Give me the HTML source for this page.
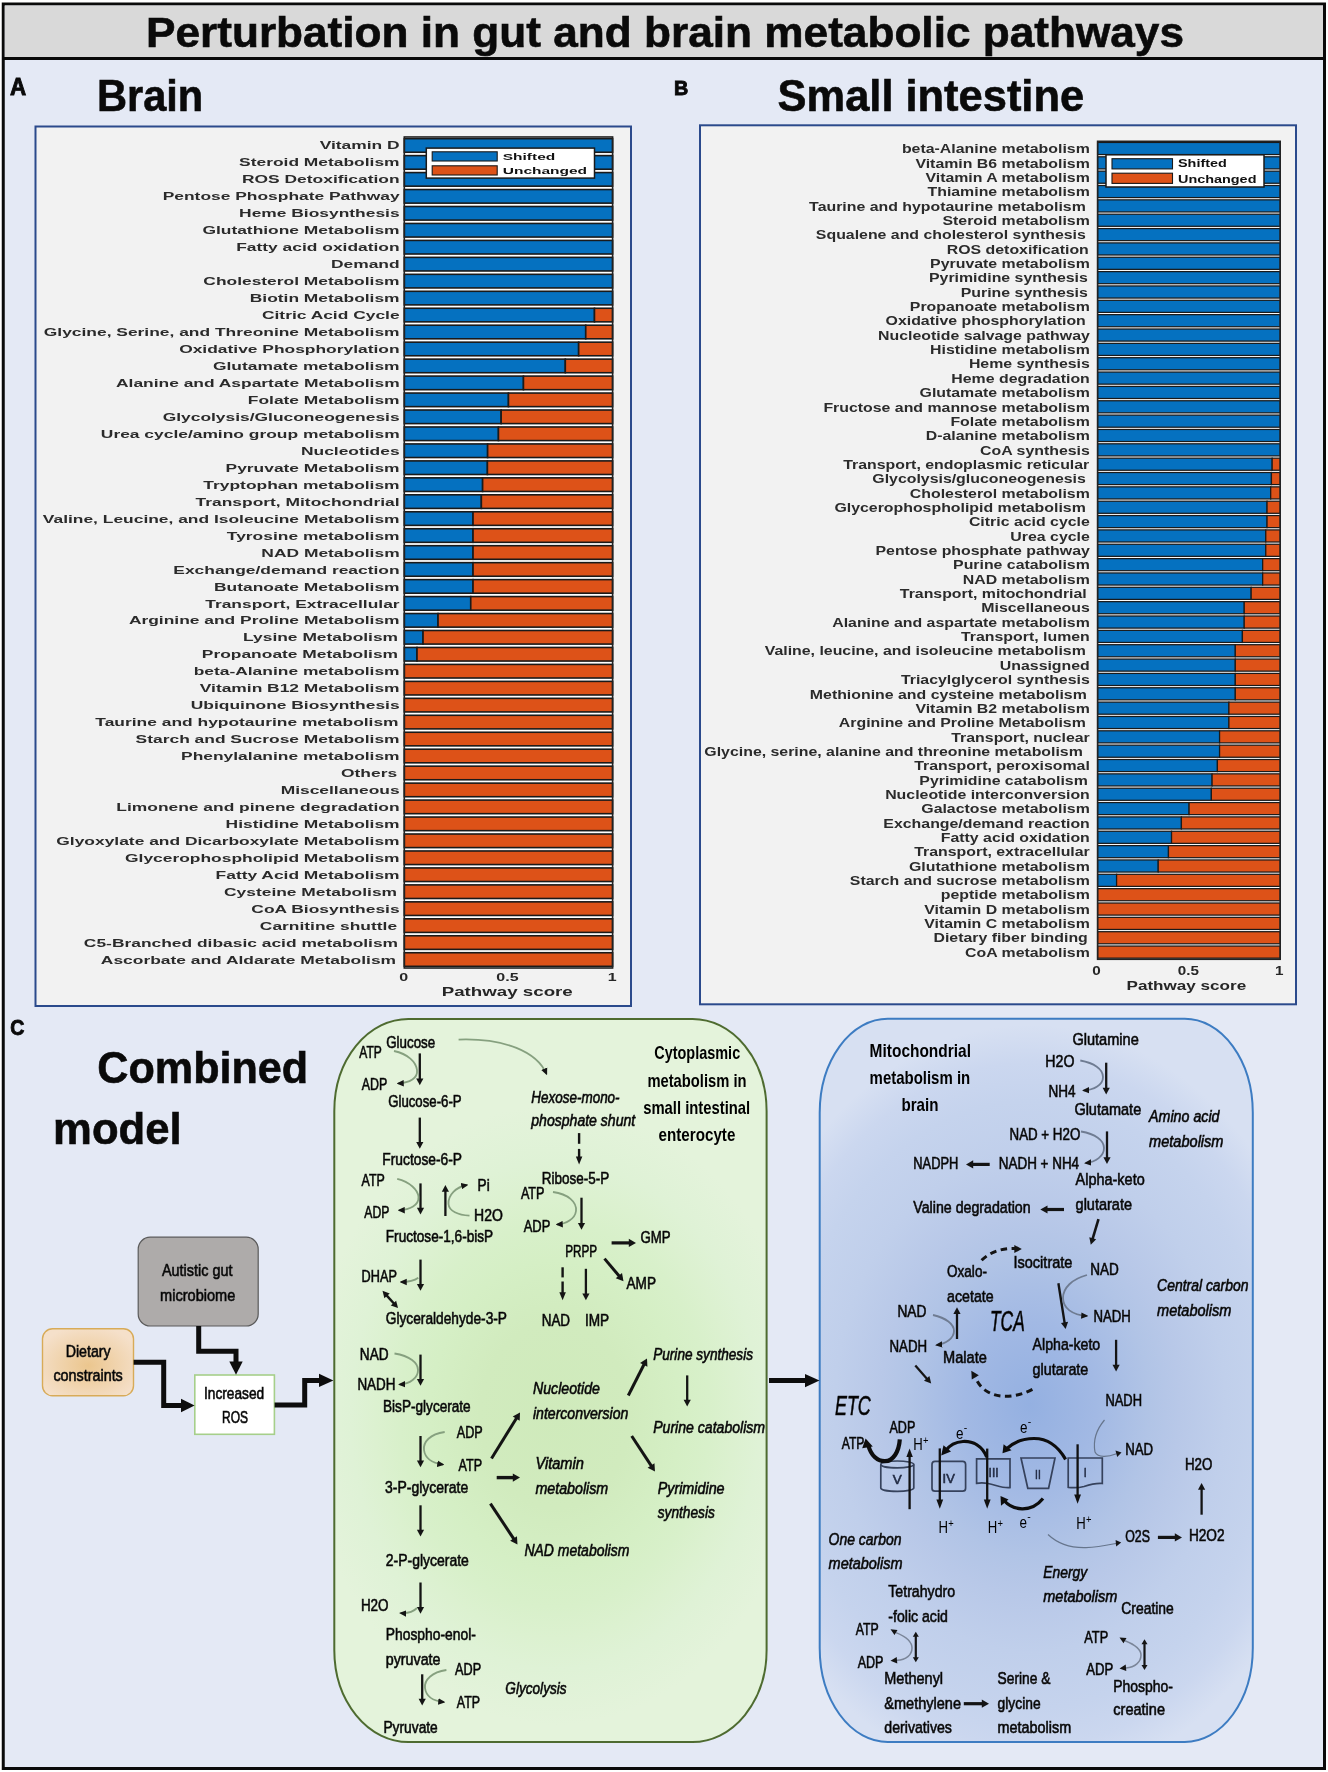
<!DOCTYPE html>
<html><head><meta charset="utf-8"><title>Perturbation in gut and brain metabolic pathways</title>
<style>html,body{margin:0;padding:0;background:#fff;width:1328px;height:1772px;overflow:hidden;}
body{position:relative;font-family:"Liberation Sans",sans-serif;} svg{will-change:transform;}</style></head>
<body>
<svg width="1328" height="1772" viewBox="0 0 1328 1772" style="position:absolute;left:0;top:0" font-family="Liberation Sans, sans-serif">
<defs>
<radialGradient id="gG" gradientUnits="userSpaceOnUse" cx="555" cy="1415" r="250" gradientTransform="translate(555,1415) scale(1,1.24) translate(-555,-1415)">
 <stop offset="0" stop-color="#cfeabb"/><stop offset="0.3" stop-color="#d1ebbe"/><stop offset="0.5" stop-color="#d5efc5"/><stop offset="0.62" stop-color="#d8f0ca"/><stop offset="0.72" stop-color="#dcf1d0"/><stop offset="0.82" stop-color="#dff2d6"/><stop offset="1" stop-color="#e4f3db"/>
</radialGradient>
<radialGradient id="gB" gradientUnits="userSpaceOnUse" cx="1030" cy="1405" r="300" gradientTransform="translate(1030,1405) scale(1,1.267) translate(-1030,-1405)">
 <stop offset="0" stop-color="#94b0e1"/><stop offset="0.22" stop-color="#a2b9e4"/><stop offset="0.4" stop-color="#b1c4e6"/><stop offset="0.5" stop-color="#b8c8e8"/><stop offset="0.65" stop-color="#c0cfeb"/><stop offset="0.8" stop-color="#c5d3ed"/><stop offset="0.9" stop-color="#cbd7ef"/><stop offset="1" stop-color="#d7e0f2"/>
</radialGradient>
<radialGradient id="gD" cx="0.5" cy="0.55" r="0.6">
 <stop offset="0" stop-color="#ebc68e"/><stop offset="1" stop-color="#f5e0ca"/>
</radialGradient>
<marker id="ah" viewBox="0 0 10 10" refX="9" refY="5" markerWidth="4.5" markerHeight="4.5" markerUnits="strokeWidth" orient="auto">
 <path d="M0,0 L10,5 L0,10 z" fill="#141414"/></marker>
<marker id="ahT" viewBox="0 0 10 10" refX="8" refY="5" markerWidth="7.2" markerHeight="7.2" markerUnits="userSpaceOnUse" orient="auto">
 <path d="M0,0.5 L10,5 L0,9.5 z" fill="#141414"/></marker>
<marker id="ahK" viewBox="0 0 10 10" refX="8" refY="5" markerWidth="2.6" markerHeight="2.6" markerUnits="strokeWidth" orient="auto">
 <path d="M0,0 L10,5 L0,10 z" fill="#0d0d0d"/></marker>
</defs>
<rect x="0" y="0" width="1328" height="1772" fill="#ffffff"/>
<rect x="3.25" y="4" width="1321.25" height="1764.5" fill="#e4e9f5" stroke="#0a0a0a" stroke-width="3"/>
<rect x="4.75" y="5.5" width="1318.25" height="52" fill="#d9d9d9"/>
<line x1="3" y1="58.5" x2="1325" y2="58.5" stroke="#0a0a0a" stroke-width="3"/>
<text x="146.00" y="47.40" font-size="42" font-weight="bold" fill="#0a0a0a" textLength="1038.00" lengthAdjust="spacingAndGlyphs" stroke="#0a0a0a" stroke-width="0.6">Perturbation in gut and brain metabolic pathways</text>
<text x="9.90" y="95.30" font-size="23" font-weight="bold" fill="#0a0a0a" textLength="16.20" lengthAdjust="spacingAndGlyphs" stroke="#0a0a0a" stroke-width="0.9">A</text>
<text x="96.90" y="111.20" font-size="45" font-weight="bold" fill="#0a0a0a" textLength="106.40" lengthAdjust="spacingAndGlyphs" stroke="#0a0a0a" stroke-width="0.6">Brain</text>
<text x="673.90" y="94.80" font-size="20" font-weight="bold" fill="#0a0a0a" textLength="14.30" lengthAdjust="spacingAndGlyphs" stroke="#0a0a0a" stroke-width="0.9">B</text>
<text x="777.60" y="111.40" font-size="44" font-weight="bold" fill="#0a0a0a" textLength="306.50" lengthAdjust="spacingAndGlyphs" stroke="#0a0a0a" stroke-width="0.6">Small intestine</text>
<text x="10.20" y="1034.60" font-size="21.5" font-weight="bold" fill="#0a0a0a" textLength="14.10" lengthAdjust="spacingAndGlyphs" stroke="#0a0a0a" stroke-width="0.9">C</text>
<text x="97.30" y="1083.20" font-size="44" font-weight="bold" fill="#0a0a0a" textLength="210.90" lengthAdjust="spacingAndGlyphs" stroke="#0a0a0a" stroke-width="0.6">Combined</text>
<text x="53.10" y="1143.70" font-size="44" font-weight="bold" fill="#0a0a0a" textLength="128.60" lengthAdjust="spacingAndGlyphs" stroke="#0a0a0a" stroke-width="0.6">model</text>
<rect x="35.5" y="126.5" width="595.5" height="879.5" fill="#f2f2f2" stroke="#2b4a8c" stroke-width="2"/>
<rect x="700" y="125.3" width="596" height="879" fill="#f2f2f2" stroke="#2b4a8c" stroke-width="2"/>
<rect x="404.30" y="136.97" width="208.30" height="831.04" fill="#ffffff"/>
<rect x="404.30" y="138.65" width="208.30" height="13.60" fill="#0571c0" stroke="#1a1a1a" stroke-width="1.6"/>
<text x="319.67" y="149.05" font-size="10" font-weight="bold" fill="#2b2b2b" textLength="79.93" lengthAdjust="spacingAndGlyphs">Vitamin D</text>
<rect x="404.30" y="155.61" width="208.30" height="13.60" fill="#0571c0" stroke="#1a1a1a" stroke-width="1.6"/>
<text x="239.12" y="166.03" font-size="10" font-weight="bold" fill="#2b2b2b" textLength="160.48" lengthAdjust="spacingAndGlyphs">Steroid Metabolism</text>
<rect x="404.30" y="172.57" width="208.30" height="13.60" fill="#0571c0" stroke="#1a1a1a" stroke-width="1.6"/>
<text x="242.02" y="183.01" font-size="10" font-weight="bold" fill="#2b2b2b" textLength="157.58" lengthAdjust="spacingAndGlyphs">ROS Detoxification</text>
<rect x="404.30" y="189.53" width="208.30" height="13.60" fill="#0571c0" stroke="#1a1a1a" stroke-width="1.6"/>
<text x="162.72" y="199.99" font-size="10" font-weight="bold" fill="#2b2b2b" textLength="236.88" lengthAdjust="spacingAndGlyphs">Pentose Phosphate Pathway</text>
<rect x="404.30" y="206.49" width="208.30" height="13.60" fill="#0571c0" stroke="#1a1a1a" stroke-width="1.6"/>
<text x="239.09" y="216.97" font-size="10" font-weight="bold" fill="#2b2b2b" textLength="160.51" lengthAdjust="spacingAndGlyphs">Heme Biosynthesis</text>
<rect x="404.30" y="223.45" width="208.30" height="13.60" fill="#0571c0" stroke="#1a1a1a" stroke-width="1.6"/>
<text x="202.40" y="233.95" font-size="10" font-weight="bold" fill="#2b2b2b" textLength="197.20" lengthAdjust="spacingAndGlyphs">Glutathione Metabolism</text>
<rect x="404.30" y="240.41" width="208.30" height="13.60" fill="#0571c0" stroke="#1a1a1a" stroke-width="1.6"/>
<text x="236.23" y="250.93" font-size="10" font-weight="bold" fill="#2b2b2b" textLength="163.37" lengthAdjust="spacingAndGlyphs">Fatty acid oxidation</text>
<rect x="404.30" y="257.37" width="208.30" height="13.60" fill="#0571c0" stroke="#1a1a1a" stroke-width="1.6"/>
<text x="330.95" y="267.91" font-size="10" font-weight="bold" fill="#2b2b2b" textLength="68.65" lengthAdjust="spacingAndGlyphs">Demand</text>
<rect x="404.30" y="274.33" width="208.30" height="13.60" fill="#0571c0" stroke="#1a1a1a" stroke-width="1.6"/>
<text x="203.34" y="284.89" font-size="10" font-weight="bold" fill="#2b2b2b" textLength="196.26" lengthAdjust="spacingAndGlyphs">Cholesterol Metabolism</text>
<rect x="404.30" y="291.29" width="208.30" height="13.60" fill="#0571c0" stroke="#1a1a1a" stroke-width="1.6"/>
<text x="249.77" y="301.87" font-size="10" font-weight="bold" fill="#2b2b2b" textLength="149.83" lengthAdjust="spacingAndGlyphs">Biotin Metabolism</text>
<rect x="404.30" y="308.25" width="190.18" height="13.60" fill="#0571c0" stroke="#1a1a1a" stroke-width="1.6"/>
<rect x="594.48" y="308.25" width="18.12" height="13.60" fill="#dd5218" stroke="#1a1a1a" stroke-width="1.6"/>
<text x="261.97" y="318.85" font-size="10" font-weight="bold" fill="#2b2b2b" textLength="137.63" lengthAdjust="spacingAndGlyphs">Citric Acid Cycle</text>
<rect x="404.30" y="325.21" width="181.43" height="13.60" fill="#0571c0" stroke="#1a1a1a" stroke-width="1.6"/>
<rect x="585.73" y="325.21" width="26.87" height="13.60" fill="#dd5218" stroke="#1a1a1a" stroke-width="1.6"/>
<text x="43.81" y="335.83" font-size="10" font-weight="bold" fill="#2b2b2b" textLength="355.79" lengthAdjust="spacingAndGlyphs">Glycine, Serine, and Threonine Metabolism</text>
<rect x="404.30" y="342.17" width="174.35" height="13.60" fill="#0571c0" stroke="#1a1a1a" stroke-width="1.6"/>
<rect x="578.65" y="342.17" width="33.95" height="13.60" fill="#dd5218" stroke="#1a1a1a" stroke-width="1.6"/>
<text x="179.18" y="352.81" font-size="10" font-weight="bold" fill="#2b2b2b" textLength="220.42" lengthAdjust="spacingAndGlyphs">Oxidative Phosphorylation</text>
<rect x="404.30" y="359.13" width="161.02" height="13.60" fill="#0571c0" stroke="#1a1a1a" stroke-width="1.6"/>
<rect x="565.32" y="359.13" width="47.28" height="13.60" fill="#dd5218" stroke="#1a1a1a" stroke-width="1.6"/>
<text x="212.99" y="369.79" font-size="10" font-weight="bold" fill="#2b2b2b" textLength="186.61" lengthAdjust="spacingAndGlyphs">Glutamate metabolism</text>
<rect x="404.30" y="376.09" width="119.15" height="13.60" fill="#0571c0" stroke="#1a1a1a" stroke-width="1.6"/>
<rect x="523.45" y="376.09" width="89.15" height="13.60" fill="#dd5218" stroke="#1a1a1a" stroke-width="1.6"/>
<text x="116.00" y="386.77" font-size="10" font-weight="bold" fill="#2b2b2b" textLength="283.60" lengthAdjust="spacingAndGlyphs">Alanine and Aspartate Metabolism</text>
<rect x="404.30" y="393.05" width="104.15" height="13.60" fill="#0571c0" stroke="#1a1a1a" stroke-width="1.6"/>
<rect x="508.45" y="393.05" width="104.15" height="13.60" fill="#dd5218" stroke="#1a1a1a" stroke-width="1.6"/>
<text x="247.82" y="403.75" font-size="10" font-weight="bold" fill="#2b2b2b" textLength="151.78" lengthAdjust="spacingAndGlyphs">Folate Metabolism</text>
<rect x="404.30" y="410.01" width="96.86" height="13.60" fill="#0571c0" stroke="#1a1a1a" stroke-width="1.6"/>
<rect x="501.16" y="410.01" width="111.44" height="13.60" fill="#dd5218" stroke="#1a1a1a" stroke-width="1.6"/>
<text x="162.70" y="420.73" font-size="10" font-weight="bold" fill="#2b2b2b" textLength="236.90" lengthAdjust="spacingAndGlyphs">Glycolysis/Gluconeogenesis</text>
<rect x="404.30" y="426.97" width="94.15" height="13.60" fill="#0571c0" stroke="#1a1a1a" stroke-width="1.6"/>
<rect x="498.45" y="426.97" width="114.15" height="13.60" fill="#dd5218" stroke="#1a1a1a" stroke-width="1.6"/>
<text x="100.83" y="437.71" font-size="10" font-weight="bold" fill="#2b2b2b" textLength="298.77" lengthAdjust="spacingAndGlyphs">Urea cycle/amino group metabolism</text>
<rect x="404.30" y="443.93" width="83.32" height="13.60" fill="#0571c0" stroke="#1a1a1a" stroke-width="1.6"/>
<rect x="487.62" y="443.93" width="124.98" height="13.60" fill="#dd5218" stroke="#1a1a1a" stroke-width="1.6"/>
<text x="300.99" y="454.69" font-size="10" font-weight="bold" fill="#2b2b2b" textLength="98.61" lengthAdjust="spacingAndGlyphs">Nucleotides</text>
<rect x="404.30" y="460.89" width="83.11" height="13.60" fill="#0571c0" stroke="#1a1a1a" stroke-width="1.6"/>
<rect x="487.41" y="460.89" width="125.19" height="13.60" fill="#dd5218" stroke="#1a1a1a" stroke-width="1.6"/>
<text x="225.55" y="471.67" font-size="10" font-weight="bold" fill="#2b2b2b" textLength="174.05" lengthAdjust="spacingAndGlyphs">Pyruvate Metabolism</text>
<rect x="404.30" y="477.85" width="78.32" height="13.60" fill="#0571c0" stroke="#1a1a1a" stroke-width="1.6"/>
<rect x="482.62" y="477.85" width="129.98" height="13.60" fill="#dd5218" stroke="#1a1a1a" stroke-width="1.6"/>
<text x="203.35" y="488.65" font-size="10" font-weight="bold" fill="#2b2b2b" textLength="196.25" lengthAdjust="spacingAndGlyphs">Tryptophan metabolism</text>
<rect x="404.30" y="494.81" width="77.07" height="13.60" fill="#0571c0" stroke="#1a1a1a" stroke-width="1.6"/>
<rect x="481.37" y="494.81" width="131.23" height="13.60" fill="#dd5218" stroke="#1a1a1a" stroke-width="1.6"/>
<text x="195.64" y="505.63" font-size="10" font-weight="bold" fill="#2b2b2b" textLength="203.96" lengthAdjust="spacingAndGlyphs">Transport, Mitochondrial</text>
<rect x="404.30" y="511.77" width="68.74" height="13.60" fill="#0571c0" stroke="#1a1a1a" stroke-width="1.6"/>
<rect x="473.04" y="511.77" width="139.56" height="13.60" fill="#dd5218" stroke="#1a1a1a" stroke-width="1.6"/>
<text x="42.83" y="522.61" font-size="10" font-weight="bold" fill="#2b2b2b" textLength="356.77" lengthAdjust="spacingAndGlyphs">Valine, Leucine, and Isoleucine Metabolism</text>
<rect x="404.30" y="528.73" width="68.74" height="13.60" fill="#0571c0" stroke="#1a1a1a" stroke-width="1.6"/>
<rect x="473.04" y="528.73" width="139.56" height="13.60" fill="#dd5218" stroke="#1a1a1a" stroke-width="1.6"/>
<text x="226.85" y="539.59" font-size="10" font-weight="bold" fill="#2b2b2b" textLength="172.75" lengthAdjust="spacingAndGlyphs">Tyrosine metabolism</text>
<rect x="404.30" y="545.69" width="68.74" height="13.60" fill="#0571c0" stroke="#1a1a1a" stroke-width="1.6"/>
<rect x="473.04" y="545.69" width="139.56" height="13.60" fill="#dd5218" stroke="#1a1a1a" stroke-width="1.6"/>
<text x="261.36" y="556.57" font-size="10" font-weight="bold" fill="#2b2b2b" textLength="138.24" lengthAdjust="spacingAndGlyphs">NAD Metabolism</text>
<rect x="404.30" y="562.65" width="68.74" height="13.60" fill="#0571c0" stroke="#1a1a1a" stroke-width="1.6"/>
<rect x="473.04" y="562.65" width="139.56" height="13.60" fill="#dd5218" stroke="#1a1a1a" stroke-width="1.6"/>
<text x="173.35" y="573.55" font-size="10" font-weight="bold" fill="#2b2b2b" textLength="226.25" lengthAdjust="spacingAndGlyphs">Exchange/demand reaction</text>
<rect x="404.30" y="579.61" width="68.74" height="13.60" fill="#0571c0" stroke="#1a1a1a" stroke-width="1.6"/>
<rect x="473.04" y="579.61" width="139.56" height="13.60" fill="#dd5218" stroke="#1a1a1a" stroke-width="1.6"/>
<text x="213.99" y="590.53" font-size="10" font-weight="bold" fill="#2b2b2b" textLength="185.61" lengthAdjust="spacingAndGlyphs">Butanoate Metabolism</text>
<rect x="404.30" y="596.57" width="66.45" height="13.60" fill="#0571c0" stroke="#1a1a1a" stroke-width="1.6"/>
<rect x="470.75" y="596.57" width="141.85" height="13.60" fill="#dd5218" stroke="#1a1a1a" stroke-width="1.6"/>
<text x="205.24" y="607.51" font-size="10" font-weight="bold" fill="#2b2b2b" textLength="194.36" lengthAdjust="spacingAndGlyphs">Transport, Extracellular</text>
<rect x="404.30" y="613.53" width="33.74" height="13.60" fill="#0571c0" stroke="#1a1a1a" stroke-width="1.6"/>
<rect x="438.04" y="613.53" width="174.56" height="13.60" fill="#dd5218" stroke="#1a1a1a" stroke-width="1.6"/>
<text x="128.91" y="624.49" font-size="10" font-weight="bold" fill="#2b2b2b" textLength="270.69" lengthAdjust="spacingAndGlyphs">Arginine and Proline Metabolism</text>
<rect x="404.30" y="630.49" width="18.75" height="13.60" fill="#0571c0" stroke="#1a1a1a" stroke-width="1.6"/>
<rect x="423.05" y="630.49" width="189.55" height="13.60" fill="#dd5218" stroke="#1a1a1a" stroke-width="1.6"/>
<text x="243.08" y="641.47" font-size="10" font-weight="bold" fill="#2b2b2b" textLength="155.02" lengthAdjust="spacingAndGlyphs">Lysine Metabolism</text>
<rect x="404.30" y="647.45" width="12.71" height="13.60" fill="#0571c0" stroke="#1a1a1a" stroke-width="1.6"/>
<rect x="417.01" y="647.45" width="195.59" height="13.60" fill="#dd5218" stroke="#1a1a1a" stroke-width="1.6"/>
<text x="201.84" y="658.45" font-size="10" font-weight="bold" fill="#2b2b2b" textLength="196.26" lengthAdjust="spacingAndGlyphs">Propanoate Metabolism</text>
<rect x="404.30" y="664.41" width="208.30" height="13.60" fill="#dd5218" stroke="#1a1a1a" stroke-width="1.6"/>
<text x="193.67" y="675.43" font-size="10" font-weight="bold" fill="#2b2b2b" textLength="205.93" lengthAdjust="spacingAndGlyphs">beta-Alanine metabolism</text>
<rect x="404.30" y="681.37" width="208.30" height="13.60" fill="#dd5218" stroke="#1a1a1a" stroke-width="1.6"/>
<text x="199.77" y="692.41" font-size="10" font-weight="bold" fill="#2b2b2b" textLength="199.83" lengthAdjust="spacingAndGlyphs">Vitamin B12 Metabolism</text>
<rect x="404.30" y="698.33" width="208.30" height="13.60" fill="#dd5218" stroke="#1a1a1a" stroke-width="1.6"/>
<text x="190.80" y="709.39" font-size="10" font-weight="bold" fill="#2b2b2b" textLength="208.80" lengthAdjust="spacingAndGlyphs">Ubiquinone Biosynthesis</text>
<rect x="404.30" y="715.29" width="208.30" height="13.60" fill="#dd5218" stroke="#1a1a1a" stroke-width="1.6"/>
<text x="95.36" y="726.37" font-size="10" font-weight="bold" fill="#2b2b2b" textLength="303.24" lengthAdjust="spacingAndGlyphs">Taurine and hypotaurine metabolism</text>
<rect x="404.30" y="732.25" width="208.30" height="13.60" fill="#dd5218" stroke="#1a1a1a" stroke-width="1.6"/>
<text x="135.64" y="743.35" font-size="10" font-weight="bold" fill="#2b2b2b" textLength="263.96" lengthAdjust="spacingAndGlyphs">Starch and Sucrose Metabolism</text>
<rect x="404.30" y="749.21" width="208.30" height="13.60" fill="#dd5218" stroke="#1a1a1a" stroke-width="1.6"/>
<text x="181.08" y="760.33" font-size="10" font-weight="bold" fill="#2b2b2b" textLength="218.52" lengthAdjust="spacingAndGlyphs">Phenylalanine metabolism</text>
<rect x="404.30" y="766.17" width="208.30" height="13.60" fill="#dd5218" stroke="#1a1a1a" stroke-width="1.6"/>
<text x="341.02" y="777.31" font-size="10" font-weight="bold" fill="#2b2b2b" textLength="56.08" lengthAdjust="spacingAndGlyphs">Others</text>
<rect x="404.30" y="783.13" width="208.30" height="13.60" fill="#dd5218" stroke="#1a1a1a" stroke-width="1.6"/>
<text x="280.67" y="794.29" font-size="10" font-weight="bold" fill="#2b2b2b" textLength="118.93" lengthAdjust="spacingAndGlyphs">Miscellaneous</text>
<rect x="404.30" y="800.09" width="208.30" height="13.60" fill="#dd5218" stroke="#1a1a1a" stroke-width="1.6"/>
<text x="116.36" y="811.27" font-size="10" font-weight="bold" fill="#2b2b2b" textLength="283.24" lengthAdjust="spacingAndGlyphs">Limonene and pinene degradation</text>
<rect x="404.30" y="817.05" width="208.30" height="13.60" fill="#dd5218" stroke="#1a1a1a" stroke-width="1.6"/>
<text x="225.59" y="828.25" font-size="10" font-weight="bold" fill="#2b2b2b" textLength="174.01" lengthAdjust="spacingAndGlyphs">Histidine Metabolism</text>
<rect x="404.30" y="834.01" width="208.30" height="13.60" fill="#dd5218" stroke="#1a1a1a" stroke-width="1.6"/>
<text x="56.34" y="845.23" font-size="10" font-weight="bold" fill="#2b2b2b" textLength="343.26" lengthAdjust="spacingAndGlyphs">Glyoxylate and Dicarboxylate Metabolism</text>
<rect x="404.30" y="850.97" width="208.30" height="13.60" fill="#dd5218" stroke="#1a1a1a" stroke-width="1.6"/>
<text x="125.06" y="862.21" font-size="10" font-weight="bold" fill="#2b2b2b" textLength="274.54" lengthAdjust="spacingAndGlyphs">Glycerophospholipid Metabolism</text>
<rect x="404.30" y="867.93" width="208.30" height="13.60" fill="#dd5218" stroke="#1a1a1a" stroke-width="1.6"/>
<text x="215.60" y="879.19" font-size="10" font-weight="bold" fill="#2b2b2b" textLength="184.00" lengthAdjust="spacingAndGlyphs">Fatty Acid Metabolism</text>
<rect x="404.30" y="884.89" width="208.30" height="13.60" fill="#dd5218" stroke="#1a1a1a" stroke-width="1.6"/>
<text x="224.03" y="896.17" font-size="10" font-weight="bold" fill="#2b2b2b" textLength="173.07" lengthAdjust="spacingAndGlyphs">Cysteine Metabolism</text>
<rect x="404.30" y="901.85" width="208.30" height="13.60" fill="#dd5218" stroke="#1a1a1a" stroke-width="1.6"/>
<text x="251.36" y="913.15" font-size="10" font-weight="bold" fill="#2b2b2b" textLength="148.24" lengthAdjust="spacingAndGlyphs">CoA Biosynthesis</text>
<rect x="404.30" y="918.81" width="208.30" height="13.60" fill="#dd5218" stroke="#1a1a1a" stroke-width="1.6"/>
<text x="259.83" y="930.13" font-size="10" font-weight="bold" fill="#2b2b2b" textLength="137.27" lengthAdjust="spacingAndGlyphs">Carnitine shuttle</text>
<rect x="404.30" y="935.77" width="208.30" height="13.60" fill="#dd5218" stroke="#1a1a1a" stroke-width="1.6"/>
<text x="83.86" y="947.11" font-size="10" font-weight="bold" fill="#2b2b2b" textLength="314.24" lengthAdjust="spacingAndGlyphs">C5-Branched dibasic acid metabolism</text>
<rect x="404.30" y="952.73" width="208.30" height="13.60" fill="#dd5218" stroke="#1a1a1a" stroke-width="1.6"/>
<text x="100.89" y="964.09" font-size="10" font-weight="bold" fill="#2b2b2b" textLength="295.21" lengthAdjust="spacingAndGlyphs">Ascorbate and Aldarate Metabolism</text>
<rect x="404.30" y="136.97" width="208.30" height="831.04" fill="none" stroke="#222" stroke-width="1.6"/>
<rect x="1097.60" y="141.32" width="182.60" height="817.95" fill="#ffffff"/>
<rect x="1097.60" y="142.45" width="182.60" height="12.10" fill="#0571c0" stroke="#1a1a1a" stroke-width="1.25"/>
<text x="901.92" y="153.20" font-size="12.5" font-weight="bold" fill="#2b2b2b" textLength="187.88" lengthAdjust="spacingAndGlyphs">beta-Alanine metabolism</text>
<rect x="1097.60" y="156.80" width="182.60" height="12.10" fill="#0571c0" stroke="#1a1a1a" stroke-width="1.25"/>
<text x="915.42" y="167.55" font-size="12.5" font-weight="bold" fill="#2b2b2b" textLength="174.38" lengthAdjust="spacingAndGlyphs">Vitamin B6 metabolism</text>
<rect x="1097.60" y="171.15" width="182.60" height="12.10" fill="#0571c0" stroke="#1a1a1a" stroke-width="1.25"/>
<text x="925.43" y="181.90" font-size="12.5" font-weight="bold" fill="#2b2b2b" textLength="164.37" lengthAdjust="spacingAndGlyphs">Vitamin A metabolism</text>
<rect x="1097.60" y="185.50" width="182.60" height="12.10" fill="#0571c0" stroke="#1a1a1a" stroke-width="1.25"/>
<text x="927.49" y="196.25" font-size="12.5" font-weight="bold" fill="#2b2b2b" textLength="162.31" lengthAdjust="spacingAndGlyphs">Thiamine metabolism</text>
<rect x="1097.60" y="199.85" width="182.60" height="12.10" fill="#0571c0" stroke="#1a1a1a" stroke-width="1.25"/>
<text x="809.14" y="210.60" font-size="12.5" font-weight="bold" fill="#2b2b2b" textLength="276.66" lengthAdjust="spacingAndGlyphs">Taurine and hypotaurine metabolism</text>
<rect x="1097.60" y="214.20" width="182.60" height="12.10" fill="#0571c0" stroke="#1a1a1a" stroke-width="1.25"/>
<text x="942.49" y="224.95" font-size="12.5" font-weight="bold" fill="#2b2b2b" textLength="147.31" lengthAdjust="spacingAndGlyphs">Steroid metabolism</text>
<rect x="1097.60" y="228.55" width="182.60" height="12.10" fill="#0571c0" stroke="#1a1a1a" stroke-width="1.25"/>
<text x="815.86" y="239.30" font-size="12.5" font-weight="bold" fill="#2b2b2b" textLength="269.94" lengthAdjust="spacingAndGlyphs">Squalene and cholesterol synthesis</text>
<rect x="1097.60" y="242.90" width="182.60" height="12.10" fill="#0571c0" stroke="#1a1a1a" stroke-width="1.25"/>
<text x="946.80" y="253.65" font-size="12.5" font-weight="bold" fill="#2b2b2b" textLength="142.00" lengthAdjust="spacingAndGlyphs">ROS detoxification</text>
<rect x="1097.60" y="257.25" width="182.60" height="12.10" fill="#0571c0" stroke="#1a1a1a" stroke-width="1.25"/>
<text x="930.11" y="268.00" font-size="12.5" font-weight="bold" fill="#2b2b2b" textLength="159.69" lengthAdjust="spacingAndGlyphs">Pyruvate metabolism</text>
<rect x="1097.60" y="271.60" width="182.60" height="12.10" fill="#0571c0" stroke="#1a1a1a" stroke-width="1.25"/>
<text x="929.00" y="282.35" font-size="12.5" font-weight="bold" fill="#2b2b2b" textLength="158.80" lengthAdjust="spacingAndGlyphs">Pyrimidine synthesis</text>
<rect x="1097.60" y="285.95" width="182.60" height="12.10" fill="#0571c0" stroke="#1a1a1a" stroke-width="1.25"/>
<text x="960.76" y="296.70" font-size="12.5" font-weight="bold" fill="#2b2b2b" textLength="127.04" lengthAdjust="spacingAndGlyphs">Purine synthesis</text>
<rect x="1097.60" y="300.30" width="182.60" height="12.10" fill="#0571c0" stroke="#1a1a1a" stroke-width="1.25"/>
<text x="909.85" y="311.05" font-size="12.5" font-weight="bold" fill="#2b2b2b" textLength="179.95" lengthAdjust="spacingAndGlyphs">Propanoate metabolism</text>
<rect x="1097.60" y="314.65" width="182.60" height="12.10" fill="#0571c0" stroke="#1a1a1a" stroke-width="1.25"/>
<text x="885.59" y="325.40" font-size="12.5" font-weight="bold" fill="#2b2b2b" textLength="200.21" lengthAdjust="spacingAndGlyphs">Oxidative phosphorylation</text>
<rect x="1097.60" y="329.00" width="182.60" height="12.10" fill="#0571c0" stroke="#1a1a1a" stroke-width="1.25"/>
<text x="878.08" y="339.75" font-size="12.5" font-weight="bold" fill="#2b2b2b" textLength="211.72" lengthAdjust="spacingAndGlyphs">Nucleotide salvage pathway</text>
<rect x="1097.60" y="343.35" width="182.60" height="12.10" fill="#0571c0" stroke="#1a1a1a" stroke-width="1.25"/>
<text x="930.14" y="354.10" font-size="12.5" font-weight="bold" fill="#2b2b2b" textLength="159.66" lengthAdjust="spacingAndGlyphs">Histidine metabolism</text>
<rect x="1097.60" y="357.70" width="182.60" height="12.10" fill="#0571c0" stroke="#1a1a1a" stroke-width="1.25"/>
<text x="968.92" y="368.45" font-size="12.5" font-weight="bold" fill="#2b2b2b" textLength="120.88" lengthAdjust="spacingAndGlyphs">Heme synthesis</text>
<rect x="1097.60" y="372.05" width="182.60" height="12.10" fill="#0571c0" stroke="#1a1a1a" stroke-width="1.25"/>
<text x="951.31" y="382.80" font-size="12.5" font-weight="bold" fill="#2b2b2b" textLength="138.49" lengthAdjust="spacingAndGlyphs">Heme degradation</text>
<rect x="1097.60" y="386.40" width="182.60" height="12.10" fill="#0571c0" stroke="#1a1a1a" stroke-width="1.25"/>
<text x="919.55" y="397.15" font-size="12.5" font-weight="bold" fill="#2b2b2b" textLength="170.25" lengthAdjust="spacingAndGlyphs">Glutamate metabolism</text>
<rect x="1097.60" y="400.75" width="182.60" height="12.10" fill="#0571c0" stroke="#1a1a1a" stroke-width="1.25"/>
<text x="823.41" y="411.50" font-size="12.5" font-weight="bold" fill="#2b2b2b" textLength="266.39" lengthAdjust="spacingAndGlyphs">Fructose and mannose metabolism</text>
<rect x="1097.60" y="415.10" width="182.60" height="12.10" fill="#0571c0" stroke="#1a1a1a" stroke-width="1.25"/>
<text x="950.43" y="425.85" font-size="12.5" font-weight="bold" fill="#2b2b2b" textLength="139.37" lengthAdjust="spacingAndGlyphs">Folate metabolism</text>
<rect x="1097.60" y="429.45" width="182.60" height="12.10" fill="#0571c0" stroke="#1a1a1a" stroke-width="1.25"/>
<text x="925.73" y="440.20" font-size="12.5" font-weight="bold" fill="#2b2b2b" textLength="164.07" lengthAdjust="spacingAndGlyphs">D-alanine metabolism</text>
<rect x="1097.60" y="443.80" width="182.60" height="12.10" fill="#0571c0" stroke="#1a1a1a" stroke-width="1.25"/>
<text x="980.12" y="454.55" font-size="12.5" font-weight="bold" fill="#2b2b2b" textLength="109.68" lengthAdjust="spacingAndGlyphs">CoA synthesis</text>
<rect x="1097.60" y="458.15" width="174.57" height="12.10" fill="#0571c0" stroke="#1a1a1a" stroke-width="1.25"/>
<rect x="1272.17" y="458.15" width="8.03" height="12.10" fill="#dd5218" stroke="#1a1a1a" stroke-width="1.25"/>
<text x="843.18" y="468.90" font-size="12.5" font-weight="bold" fill="#2b2b2b" textLength="246.12" lengthAdjust="spacingAndGlyphs">Transport, endoplasmic reticular</text>
<rect x="1097.60" y="472.50" width="173.84" height="12.10" fill="#0571c0" stroke="#1a1a1a" stroke-width="1.25"/>
<rect x="1271.44" y="472.50" width="8.76" height="12.10" fill="#dd5218" stroke="#1a1a1a" stroke-width="1.25"/>
<text x="872.31" y="483.25" font-size="12.5" font-weight="bold" fill="#2b2b2b" textLength="213.49" lengthAdjust="spacingAndGlyphs">Glycolysis/gluconeogenesis</text>
<rect x="1097.60" y="486.85" width="173.10" height="12.10" fill="#0571c0" stroke="#1a1a1a" stroke-width="1.25"/>
<rect x="1270.70" y="486.85" width="9.50" height="12.10" fill="#dd5218" stroke="#1a1a1a" stroke-width="1.25"/>
<text x="909.85" y="497.60" font-size="12.5" font-weight="bold" fill="#2b2b2b" textLength="179.95" lengthAdjust="spacingAndGlyphs">Cholesterol metabolism</text>
<rect x="1097.60" y="501.20" width="169.45" height="12.10" fill="#0571c0" stroke="#1a1a1a" stroke-width="1.25"/>
<rect x="1267.05" y="501.20" width="13.15" height="12.10" fill="#dd5218" stroke="#1a1a1a" stroke-width="1.25"/>
<text x="834.43" y="511.95" font-size="12.5" font-weight="bold" fill="#2b2b2b" textLength="251.37" lengthAdjust="spacingAndGlyphs">Glycerophospholipid metabolism</text>
<rect x="1097.60" y="515.55" width="169.45" height="12.10" fill="#0571c0" stroke="#1a1a1a" stroke-width="1.25"/>
<rect x="1267.05" y="515.55" width="13.15" height="12.10" fill="#dd5218" stroke="#1a1a1a" stroke-width="1.25"/>
<text x="968.92" y="526.30" font-size="12.5" font-weight="bold" fill="#2b2b2b" textLength="120.88" lengthAdjust="spacingAndGlyphs">Citric acid cycle</text>
<rect x="1097.60" y="529.90" width="168.17" height="12.10" fill="#0571c0" stroke="#1a1a1a" stroke-width="1.25"/>
<rect x="1265.77" y="529.90" width="14.43" height="12.10" fill="#dd5218" stroke="#1a1a1a" stroke-width="1.25"/>
<text x="1010.37" y="540.65" font-size="12.5" font-weight="bold" fill="#2b2b2b" textLength="79.43" lengthAdjust="spacingAndGlyphs">Urea cycle</text>
<rect x="1097.60" y="544.25" width="168.17" height="12.10" fill="#0571c0" stroke="#1a1a1a" stroke-width="1.25"/>
<rect x="1265.77" y="544.25" width="14.43" height="12.10" fill="#dd5218" stroke="#1a1a1a" stroke-width="1.25"/>
<text x="875.47" y="555.00" font-size="12.5" font-weight="bold" fill="#2b2b2b" textLength="214.33" lengthAdjust="spacingAndGlyphs">Pentose phosphate pathway</text>
<rect x="1097.60" y="558.60" width="165.07" height="12.10" fill="#0571c0" stroke="#1a1a1a" stroke-width="1.25"/>
<rect x="1262.67" y="558.60" width="17.53" height="12.10" fill="#dd5218" stroke="#1a1a1a" stroke-width="1.25"/>
<text x="953.06" y="569.35" font-size="12.5" font-weight="bold" fill="#2b2b2b" textLength="136.74" lengthAdjust="spacingAndGlyphs">Purine catabolism</text>
<rect x="1097.60" y="572.95" width="165.07" height="12.10" fill="#0571c0" stroke="#1a1a1a" stroke-width="1.25"/>
<rect x="1262.67" y="572.95" width="17.53" height="12.10" fill="#dd5218" stroke="#1a1a1a" stroke-width="1.25"/>
<text x="962.78" y="583.70" font-size="12.5" font-weight="bold" fill="#2b2b2b" textLength="127.02" lengthAdjust="spacingAndGlyphs">NAD metabolism</text>
<rect x="1097.60" y="587.30" width="153.57" height="12.10" fill="#0571c0" stroke="#1a1a1a" stroke-width="1.25"/>
<rect x="1251.17" y="587.30" width="29.03" height="12.10" fill="#dd5218" stroke="#1a1a1a" stroke-width="1.25"/>
<text x="899.82" y="598.05" font-size="12.5" font-weight="bold" fill="#2b2b2b" textLength="186.98" lengthAdjust="spacingAndGlyphs">Transport, mitochondrial</text>
<rect x="1097.60" y="601.65" width="146.63" height="12.10" fill="#0571c0" stroke="#1a1a1a" stroke-width="1.25"/>
<rect x="1244.23" y="601.65" width="35.97" height="12.10" fill="#dd5218" stroke="#1a1a1a" stroke-width="1.25"/>
<text x="981.29" y="612.40" font-size="12.5" font-weight="bold" fill="#2b2b2b" textLength="108.51" lengthAdjust="spacingAndGlyphs">Miscellaneous</text>
<rect x="1097.60" y="616.00" width="146.63" height="12.10" fill="#0571c0" stroke="#1a1a1a" stroke-width="1.25"/>
<rect x="1244.23" y="616.00" width="35.97" height="12.10" fill="#dd5218" stroke="#1a1a1a" stroke-width="1.25"/>
<text x="832.21" y="626.75" font-size="12.5" font-weight="bold" fill="#2b2b2b" textLength="257.59" lengthAdjust="spacingAndGlyphs">Alanine and aspartate metabolism</text>
<rect x="1097.60" y="630.35" width="144.80" height="12.10" fill="#0571c0" stroke="#1a1a1a" stroke-width="1.25"/>
<rect x="1242.40" y="630.35" width="37.80" height="12.10" fill="#dd5218" stroke="#1a1a1a" stroke-width="1.25"/>
<text x="961.02" y="641.10" font-size="12.5" font-weight="bold" fill="#2b2b2b" textLength="128.78" lengthAdjust="spacingAndGlyphs">Transport, lumen</text>
<rect x="1097.60" y="644.70" width="137.68" height="12.10" fill="#0571c0" stroke="#1a1a1a" stroke-width="1.25"/>
<rect x="1235.28" y="644.70" width="44.92" height="12.10" fill="#dd5218" stroke="#1a1a1a" stroke-width="1.25"/>
<text x="764.69" y="655.45" font-size="12.5" font-weight="bold" fill="#2b2b2b" textLength="321.11" lengthAdjust="spacingAndGlyphs">Valine, leucine, and isoleucine metabolism</text>
<rect x="1097.60" y="659.05" width="137.68" height="12.10" fill="#0571c0" stroke="#1a1a1a" stroke-width="1.25"/>
<rect x="1235.28" y="659.05" width="44.92" height="12.10" fill="#dd5218" stroke="#1a1a1a" stroke-width="1.25"/>
<text x="999.83" y="669.80" font-size="12.5" font-weight="bold" fill="#2b2b2b" textLength="89.97" lengthAdjust="spacingAndGlyphs">Unassigned</text>
<rect x="1097.60" y="673.40" width="137.68" height="12.10" fill="#0571c0" stroke="#1a1a1a" stroke-width="1.25"/>
<rect x="1235.28" y="673.40" width="44.92" height="12.10" fill="#dd5218" stroke="#1a1a1a" stroke-width="1.25"/>
<text x="900.98" y="684.15" font-size="12.5" font-weight="bold" fill="#2b2b2b" textLength="188.82" lengthAdjust="spacingAndGlyphs">Triacylglycerol synthesis</text>
<rect x="1097.60" y="687.75" width="137.68" height="12.10" fill="#0571c0" stroke="#1a1a1a" stroke-width="1.25"/>
<rect x="1235.28" y="687.75" width="44.92" height="12.10" fill="#dd5218" stroke="#1a1a1a" stroke-width="1.25"/>
<text x="809.83" y="698.50" font-size="12.5" font-weight="bold" fill="#2b2b2b" textLength="276.97" lengthAdjust="spacingAndGlyphs">Methionine and cysteine metabolism</text>
<rect x="1097.60" y="702.10" width="131.29" height="12.10" fill="#0571c0" stroke="#1a1a1a" stroke-width="1.25"/>
<rect x="1228.89" y="702.10" width="51.31" height="12.10" fill="#dd5218" stroke="#1a1a1a" stroke-width="1.25"/>
<text x="915.42" y="712.85" font-size="12.5" font-weight="bold" fill="#2b2b2b" textLength="174.38" lengthAdjust="spacingAndGlyphs">Vitamin B2 metabolism</text>
<rect x="1097.60" y="716.45" width="131.29" height="12.10" fill="#0571c0" stroke="#1a1a1a" stroke-width="1.25"/>
<rect x="1228.89" y="716.45" width="51.31" height="12.10" fill="#dd5218" stroke="#1a1a1a" stroke-width="1.25"/>
<text x="838.84" y="727.20" font-size="12.5" font-weight="bold" fill="#2b2b2b" textLength="246.96" lengthAdjust="spacingAndGlyphs">Arginine and Proline Metabolism</text>
<rect x="1097.60" y="730.80" width="121.98" height="12.10" fill="#0571c0" stroke="#1a1a1a" stroke-width="1.25"/>
<rect x="1219.58" y="730.80" width="60.62" height="12.10" fill="#dd5218" stroke="#1a1a1a" stroke-width="1.25"/>
<text x="951.31" y="741.55" font-size="12.5" font-weight="bold" fill="#2b2b2b" textLength="138.49" lengthAdjust="spacingAndGlyphs">Transport, nuclear</text>
<rect x="1097.60" y="745.15" width="121.98" height="12.10" fill="#0571c0" stroke="#1a1a1a" stroke-width="1.25"/>
<rect x="1219.58" y="745.15" width="60.62" height="12.10" fill="#dd5218" stroke="#1a1a1a" stroke-width="1.25"/>
<text x="704.36" y="755.90" font-size="12.5" font-weight="bold" fill="#2b2b2b" textLength="378.44" lengthAdjust="spacingAndGlyphs">Glycine, serine, alanine and threonine metabolism</text>
<rect x="1097.60" y="759.50" width="119.79" height="12.10" fill="#0571c0" stroke="#1a1a1a" stroke-width="1.25"/>
<rect x="1217.39" y="759.50" width="62.81" height="12.10" fill="#dd5218" stroke="#1a1a1a" stroke-width="1.25"/>
<text x="914.25" y="770.25" font-size="12.5" font-weight="bold" fill="#2b2b2b" textLength="175.55" lengthAdjust="spacingAndGlyphs">Transport, peroxisomal</text>
<rect x="1097.60" y="773.85" width="114.49" height="12.10" fill="#0571c0" stroke="#1a1a1a" stroke-width="1.25"/>
<rect x="1212.09" y="773.85" width="68.11" height="12.10" fill="#dd5218" stroke="#1a1a1a" stroke-width="1.25"/>
<text x="919.30" y="784.60" font-size="12.5" font-weight="bold" fill="#2b2b2b" textLength="168.50" lengthAdjust="spacingAndGlyphs">Pyrimidine catabolism</text>
<rect x="1097.60" y="788.20" width="113.76" height="12.10" fill="#0571c0" stroke="#1a1a1a" stroke-width="1.25"/>
<rect x="1211.36" y="788.20" width="68.84" height="12.10" fill="#dd5218" stroke="#1a1a1a" stroke-width="1.25"/>
<text x="885.16" y="798.95" font-size="12.5" font-weight="bold" fill="#2b2b2b" textLength="204.64" lengthAdjust="spacingAndGlyphs">Nucleotide interconversion</text>
<rect x="1097.60" y="802.55" width="91.48" height="12.10" fill="#0571c0" stroke="#1a1a1a" stroke-width="1.25"/>
<rect x="1189.08" y="802.55" width="91.12" height="12.10" fill="#dd5218" stroke="#1a1a1a" stroke-width="1.25"/>
<text x="921.29" y="813.30" font-size="12.5" font-weight="bold" fill="#2b2b2b" textLength="168.51" lengthAdjust="spacingAndGlyphs">Galactose metabolism</text>
<rect x="1097.60" y="816.90" width="83.81" height="12.10" fill="#0571c0" stroke="#1a1a1a" stroke-width="1.25"/>
<rect x="1181.41" y="816.90" width="98.79" height="12.10" fill="#dd5218" stroke="#1a1a1a" stroke-width="1.25"/>
<text x="883.38" y="827.65" font-size="12.5" font-weight="bold" fill="#2b2b2b" textLength="206.42" lengthAdjust="spacingAndGlyphs">Exchange/demand reaction</text>
<rect x="1097.60" y="831.25" width="73.95" height="12.10" fill="#0571c0" stroke="#1a1a1a" stroke-width="1.25"/>
<rect x="1171.55" y="831.25" width="108.65" height="12.10" fill="#dd5218" stroke="#1a1a1a" stroke-width="1.25"/>
<text x="940.75" y="842.00" font-size="12.5" font-weight="bold" fill="#2b2b2b" textLength="149.05" lengthAdjust="spacingAndGlyphs">Fatty acid oxidation</text>
<rect x="1097.60" y="845.60" width="70.85" height="12.10" fill="#0571c0" stroke="#1a1a1a" stroke-width="1.25"/>
<rect x="1168.45" y="845.60" width="111.75" height="12.10" fill="#dd5218" stroke="#1a1a1a" stroke-width="1.25"/>
<text x="914.23" y="856.35" font-size="12.5" font-weight="bold" fill="#2b2b2b" textLength="175.57" lengthAdjust="spacingAndGlyphs">Transport, extracellular</text>
<rect x="1097.60" y="859.95" width="60.62" height="12.10" fill="#0571c0" stroke="#1a1a1a" stroke-width="1.25"/>
<rect x="1158.22" y="859.95" width="121.98" height="12.10" fill="#dd5218" stroke="#1a1a1a" stroke-width="1.25"/>
<text x="908.99" y="870.70" font-size="12.5" font-weight="bold" fill="#2b2b2b" textLength="180.81" lengthAdjust="spacingAndGlyphs">Glutathione metabolism</text>
<rect x="1097.60" y="874.30" width="18.99" height="12.10" fill="#0571c0" stroke="#1a1a1a" stroke-width="1.25"/>
<rect x="1116.59" y="874.30" width="163.61" height="12.10" fill="#dd5218" stroke="#1a1a1a" stroke-width="1.25"/>
<text x="849.84" y="885.05" font-size="12.5" font-weight="bold" fill="#2b2b2b" textLength="239.96" lengthAdjust="spacingAndGlyphs">Starch and sucrose metabolism</text>
<rect x="1097.60" y="888.65" width="182.60" height="12.10" fill="#dd5218" stroke="#1a1a1a" stroke-width="1.25"/>
<text x="940.73" y="899.40" font-size="12.5" font-weight="bold" fill="#2b2b2b" textLength="149.07" lengthAdjust="spacingAndGlyphs">peptide metabolism</text>
<rect x="1097.60" y="903.00" width="182.60" height="12.10" fill="#dd5218" stroke="#1a1a1a" stroke-width="1.25"/>
<text x="924.25" y="913.75" font-size="12.5" font-weight="bold" fill="#2b2b2b" textLength="165.55" lengthAdjust="spacingAndGlyphs">Vitamin D metabolism</text>
<rect x="1097.60" y="917.35" width="182.60" height="12.10" fill="#dd5218" stroke="#1a1a1a" stroke-width="1.25"/>
<text x="924.25" y="928.10" font-size="12.5" font-weight="bold" fill="#2b2b2b" textLength="165.55" lengthAdjust="spacingAndGlyphs">Vitamin C metabolism</text>
<rect x="1097.60" y="931.70" width="182.60" height="12.10" fill="#dd5218" stroke="#1a1a1a" stroke-width="1.25"/>
<text x="933.46" y="942.45" font-size="12.5" font-weight="bold" fill="#2b2b2b" textLength="154.34" lengthAdjust="spacingAndGlyphs">Dietary fiber binding</text>
<rect x="1097.60" y="946.05" width="182.60" height="12.10" fill="#dd5218" stroke="#1a1a1a" stroke-width="1.25"/>
<text x="965.14" y="956.80" font-size="12.5" font-weight="bold" fill="#2b2b2b" textLength="124.66" lengthAdjust="spacingAndGlyphs">CoA metabolism</text>
<rect x="1097.60" y="141.32" width="182.60" height="817.95" fill="none" stroke="#222" stroke-width="1.6"/>
<rect x="426.3" y="148.1" width="168.2" height="30" fill="#ffffff" stroke="#1a1a1a" stroke-width="1.5"/>
<rect x="432.2" y="151.8" width="65" height="9.2" fill="#0571c0" stroke="#1a1a1a" stroke-width="1.1"/>
<rect x="432.2" y="165.8" width="65" height="9.2" fill="#dd5218" stroke="#1a1a1a" stroke-width="1.1"/>
<text x="502.80" y="160.20" font-size="9" font-weight="bold" fill="#111" textLength="52.45" lengthAdjust="spacingAndGlyphs">Shifted</text>
<text x="502.80" y="174.20" font-size="9" font-weight="bold" fill="#111" textLength="84.28" lengthAdjust="spacingAndGlyphs">Unchanged</text>
<rect x="1106" y="154.8" width="158" height="32.2" fill="#ffffff" stroke="#1a1a1a" stroke-width="1.5"/>
<rect x="1112" y="158.7" width="60.5" height="10.2" fill="#0571c0" stroke="#1a1a1a" stroke-width="1.1"/>
<rect x="1112" y="173.2" width="60.5" height="10.2" fill="#dd5218" stroke="#1a1a1a" stroke-width="1.1"/>
<text x="1178.00" y="167.30" font-size="11" font-weight="bold" fill="#111" textLength="48.83" lengthAdjust="spacingAndGlyphs">Shifted</text>
<text x="1178.00" y="182.60" font-size="11" font-weight="bold" fill="#111" textLength="78.45" lengthAdjust="spacingAndGlyphs">Unchanged</text>
<text x="399.35" y="981.00" font-size="10" font-weight="bold" fill="#262626" textLength="8.90" lengthAdjust="spacingAndGlyphs">0</text>
<text x="496.38" y="981.00" font-size="10" font-weight="bold" fill="#262626" textLength="22.24" lengthAdjust="spacingAndGlyphs">0.5</text>
<text x="607.75" y="981.00" font-size="10" font-weight="bold" fill="#262626" textLength="8.90" lengthAdjust="spacingAndGlyphs">1</text>
<text x="441.70" y="996.30" font-size="12" font-weight="bold" fill="#262626" textLength="131.10" lengthAdjust="spacingAndGlyphs">Pathway score</text>
<text x="1092.36" y="974.60" font-size="12.5" font-weight="bold" fill="#262626" textLength="8.48" lengthAdjust="spacingAndGlyphs">0</text>
<text x="1177.70" y="974.60" font-size="12.5" font-weight="bold" fill="#262626" textLength="21.20" lengthAdjust="spacingAndGlyphs">0.5</text>
<text x="1275.06" y="974.60" font-size="12.5" font-weight="bold" fill="#262626" textLength="8.48" lengthAdjust="spacingAndGlyphs">1</text>
<text x="1126.50" y="989.80" font-size="12.5" font-weight="bold" fill="#262626" textLength="119.70" lengthAdjust="spacingAndGlyphs">Pathway score</text>
<rect x="334.3" y="1019" width="432.3" height="723" rx="74" ry="92" fill="url(#gG)" stroke="#4e6b30" stroke-width="2"/>
<rect x="819.7" y="1018.8" width="433.1" height="723.2" rx="68" ry="94" fill="url(#gB)" stroke="#3d7cc2" stroke-width="2"/>
<rect x="138.2" y="1237.2" width="120" height="88.8" rx="12" ry="12" fill="#aeabaa" stroke="#5a5a5a" stroke-width="1.2"/>
<rect x="42.5" y="1328.8" width="91" height="67" rx="10" ry="10" fill="url(#gD)" stroke="#d8ab58" stroke-width="1.4"/>
<rect x="194.8" y="1375" width="79.6" height="59.3" fill="#ffffff" stroke="#a6cf8a" stroke-width="1.6"/>
<path d="M198.7,1326 V1351.3 H236 V1363" fill="none" stroke="#0d0d0d" stroke-width="5"/>
<path d="M229.3,1361.5 L242.7,1361.5 L236,1374.8 z" fill="#0d0d0d"/>
<path d="M133.6,1362.2 H163.7 V1405.5 H182" fill="none" stroke="#0d0d0d" stroke-width="5"/>
<path d="M181,1398.8 L181,1412.2 L194.6,1405.5 z" fill="#0d0d0d"/>
<path d="M274.6,1405 H304.7 V1380.4 H320" fill="none" stroke="#0d0d0d" stroke-width="5"/>
<path d="M319,1373.7 L319,1387.1 L333.4,1380.4 z" fill="#0d0d0d"/>
<path d="M769,1380.6 H806" fill="none" stroke="#0d0d0d" stroke-width="5"/>
<path d="M805,1373.9 L805,1387.3 L819.5,1380.6 z" fill="#0d0d0d"/>
<text x="162.00" y="1275.50" font-size="17" textLength="70.40" lengthAdjust="spacingAndGlyphs" stroke="#141414" stroke-width="0.65">Autistic gut</text>
<text x="160.10" y="1301.00" font-size="17" textLength="75.20" lengthAdjust="spacingAndGlyphs" stroke="#141414" stroke-width="0.65">microbiome</text>
<text x="65.70" y="1356.50" font-size="17" textLength="45.00" lengthAdjust="spacingAndGlyphs" stroke="#141414" stroke-width="0.65">Dietary</text>
<text x="53.40" y="1380.80" font-size="17" textLength="69.40" lengthAdjust="spacingAndGlyphs" stroke="#141414" stroke-width="0.65">constraints</text>
<text x="204.00" y="1398.80" font-size="17" textLength="60.20" lengthAdjust="spacingAndGlyphs" stroke="#141414" stroke-width="0.65">Increased</text>
<text x="222.00" y="1423.10" font-size="17" textLength="26.00" lengthAdjust="spacingAndGlyphs" stroke="#141414" stroke-width="0.65">ROS</text>
<text x="359.30" y="1057.80" font-size="17" textLength="22.50" lengthAdjust="spacingAndGlyphs" stroke="#141414" stroke-width="0.65">ATP</text>
<text x="386.20" y="1048.00" font-size="17" textLength="49.00" lengthAdjust="spacingAndGlyphs" stroke="#141414" stroke-width="0.65">Glucose</text>
<text x="361.70" y="1090.10" font-size="17" textLength="25.50" lengthAdjust="spacingAndGlyphs" stroke="#141414" stroke-width="0.65">ADP</text>
<text x="388.20" y="1106.70" font-size="17" textLength="73.40" lengthAdjust="spacingAndGlyphs" stroke="#141414" stroke-width="0.65">Glucose-6-P</text>
<text x="382.30" y="1165.00" font-size="17" textLength="79.70" lengthAdjust="spacingAndGlyphs" stroke="#141414" stroke-width="0.65">Fructose-6-P</text>
<text x="361.60" y="1185.50" font-size="17" textLength="23.20" lengthAdjust="spacingAndGlyphs" stroke="#141414" stroke-width="0.65">ATP</text>
<text x="477.60" y="1190.50" font-size="17" textLength="12.10" lengthAdjust="spacingAndGlyphs" stroke="#141414" stroke-width="0.65">Pi</text>
<text x="364.30" y="1217.50" font-size="17" textLength="25.00" lengthAdjust="spacingAndGlyphs" stroke="#141414" stroke-width="0.65">ADP</text>
<text x="474.10" y="1220.50" font-size="17" textLength="28.80" lengthAdjust="spacingAndGlyphs" stroke="#141414" stroke-width="0.65">H2O</text>
<text x="385.80" y="1242.00" font-size="17" textLength="107.40" lengthAdjust="spacingAndGlyphs" stroke="#141414" stroke-width="0.65">Fructose-1,6-bisP</text>
<text x="361.60" y="1282.00" font-size="17" textLength="35.30" lengthAdjust="spacingAndGlyphs" stroke="#141414" stroke-width="0.65">DHAP</text>
<text x="385.80" y="1324.00" font-size="17" textLength="121.20" lengthAdjust="spacingAndGlyphs" stroke="#141414" stroke-width="0.65">Glyceraldehyde-3-P</text>
<text x="541.70" y="1184.00" font-size="17" textLength="67.50" lengthAdjust="spacingAndGlyphs" stroke="#141414" stroke-width="0.65">Ribose-5-P</text>
<text x="520.90" y="1199.30" font-size="17" textLength="23.60" lengthAdjust="spacingAndGlyphs" stroke="#141414" stroke-width="0.65">ATP</text>
<text x="523.70" y="1231.50" font-size="17" textLength="26.60" lengthAdjust="spacingAndGlyphs" stroke="#141414" stroke-width="0.65">ADP</text>
<text x="565.20" y="1256.50" font-size="17" textLength="31.90" lengthAdjust="spacingAndGlyphs" stroke="#141414" stroke-width="0.65">PRPP</text>
<text x="640.40" y="1242.60" font-size="17" textLength="30.10" lengthAdjust="spacingAndGlyphs" stroke="#141414" stroke-width="0.65">GMP</text>
<text x="626.50" y="1289.40" font-size="17" textLength="29.50" lengthAdjust="spacingAndGlyphs" stroke="#141414" stroke-width="0.65">AMP</text>
<text x="541.70" y="1325.80" font-size="17" textLength="28.40" lengthAdjust="spacingAndGlyphs" stroke="#141414" stroke-width="0.65">NAD</text>
<text x="585.00" y="1325.80" font-size="17" textLength="24.20" lengthAdjust="spacingAndGlyphs" stroke="#141414" stroke-width="0.65">IMP</text>
<text x="359.80" y="1360.20" font-size="17" textLength="28.80" lengthAdjust="spacingAndGlyphs" stroke="#141414" stroke-width="0.65">NAD</text>
<text x="357.40" y="1389.70" font-size="17" textLength="38.10" lengthAdjust="spacingAndGlyphs" stroke="#141414" stroke-width="0.65">NADH</text>
<text x="383.00" y="1412.20" font-size="17" textLength="87.70" lengthAdjust="spacingAndGlyphs" stroke="#141414" stroke-width="0.65">BisP-glycerate</text>
<text x="456.80" y="1438.10" font-size="17" textLength="26.00" lengthAdjust="spacingAndGlyphs" stroke="#141414" stroke-width="0.65">ADP</text>
<text x="458.60" y="1471.00" font-size="17" textLength="23.50" lengthAdjust="spacingAndGlyphs" stroke="#141414" stroke-width="0.65">ATP</text>
<text x="385.10" y="1492.50" font-size="17" textLength="83.10" lengthAdjust="spacingAndGlyphs" stroke="#141414" stroke-width="0.65">3-P-glycerate</text>
<text x="385.80" y="1566.30" font-size="17" textLength="83.10" lengthAdjust="spacingAndGlyphs" stroke="#141414" stroke-width="0.65">2-P-glycerate</text>
<text x="360.90" y="1611.30" font-size="17" textLength="27.70" lengthAdjust="spacingAndGlyphs" stroke="#141414" stroke-width="0.65">H2O</text>
<text x="385.80" y="1640.00" font-size="17" textLength="90.10" lengthAdjust="spacingAndGlyphs" stroke="#141414" stroke-width="0.65">Phospho-enol-</text>
<text x="385.80" y="1665.00" font-size="17" textLength="54.70" lengthAdjust="spacingAndGlyphs" stroke="#141414" stroke-width="0.65">pyruvate</text>
<text x="455.10" y="1674.70" font-size="17" textLength="26.00" lengthAdjust="spacingAndGlyphs" stroke="#141414" stroke-width="0.65">ADP</text>
<text x="456.80" y="1707.60" font-size="17" textLength="23.20" lengthAdjust="spacingAndGlyphs" stroke="#141414" stroke-width="0.65">ATP</text>
<text x="383.40" y="1732.50" font-size="17" textLength="54.40" lengthAdjust="spacingAndGlyphs" stroke="#141414" stroke-width="0.65">Pyruvate</text>
<text x="531.30" y="1102.50" font-size="17" font-style="italic" textLength="88.30" lengthAdjust="spacingAndGlyphs" stroke="#141414" stroke-width="0.65">Hexose-mono-</text>
<text x="531.30" y="1125.50" font-size="17" font-style="italic" textLength="103.90" lengthAdjust="spacingAndGlyphs" stroke="#141414" stroke-width="0.65">phosphate shunt</text>
<text x="505.30" y="1694.40" font-size="17" font-style="italic" textLength="61.30" lengthAdjust="spacingAndGlyphs" stroke="#141414" stroke-width="0.65">Glycolysis</text>
<text x="533.00" y="1394.20" font-size="17" font-style="italic" textLength="66.90" lengthAdjust="spacingAndGlyphs" stroke="#141414" stroke-width="0.65">Nucleotide</text>
<text x="533.00" y="1419.00" font-size="17" font-style="italic" textLength="95.30" lengthAdjust="spacingAndGlyphs" stroke="#141414" stroke-width="0.65">interconversion</text>
<text x="535.40" y="1469.30" font-size="17" font-style="italic" textLength="48.50" lengthAdjust="spacingAndGlyphs" stroke="#141414" stroke-width="0.65">Vitamin</text>
<text x="535.40" y="1493.60" font-size="17" font-style="italic" textLength="72.80" lengthAdjust="spacingAndGlyphs" stroke="#141414" stroke-width="0.65">metabolism</text>
<text x="524.40" y="1555.90" font-size="17" font-style="italic" textLength="104.90" lengthAdjust="spacingAndGlyphs" stroke="#141414" stroke-width="0.65">NAD metabolism</text>
<text x="653.20" y="1359.50" font-size="17" font-style="italic" textLength="99.80" lengthAdjust="spacingAndGlyphs" stroke="#141414" stroke-width="0.65">Purine synthesis</text>
<text x="653.20" y="1433.00" font-size="17" font-style="italic" textLength="111.90" lengthAdjust="spacingAndGlyphs" stroke="#141414" stroke-width="0.65">Purine catabolism</text>
<text x="657.70" y="1493.60" font-size="17" font-style="italic" textLength="66.90" lengthAdjust="spacingAndGlyphs" stroke="#141414" stroke-width="0.65">Pyrimidine</text>
<text x="657.70" y="1517.80" font-size="17" font-style="italic" textLength="57.20" lengthAdjust="spacingAndGlyphs" stroke="#141414" stroke-width="0.65">synthesis</text>
<text x="654.20" y="1058.70" font-size="18.5" font-weight="bold" textLength="86.00" lengthAdjust="spacingAndGlyphs">Cytoplasmic</text>
<text x="647.40" y="1086.50" font-size="18.5" font-weight="bold" textLength="99.10" lengthAdjust="spacingAndGlyphs">metabolism in</text>
<text x="643.20" y="1114.00" font-size="18.5" font-weight="bold" textLength="107.00" lengthAdjust="spacingAndGlyphs">small intestinal</text>
<text x="658.50" y="1141.00" font-size="18.5" font-weight="bold" textLength="76.90" lengthAdjust="spacingAndGlyphs">enterocyte</text>
<text x="1072.40" y="1045.30" font-size="17" textLength="66.40" lengthAdjust="spacingAndGlyphs" stroke="#141414" stroke-width="0.65">Glutamine</text>
<text x="1045.30" y="1067.20" font-size="17" textLength="29.10" lengthAdjust="spacingAndGlyphs" stroke="#141414" stroke-width="0.65">H2O</text>
<text x="1048.50" y="1097.00" font-size="17" textLength="27.10" lengthAdjust="spacingAndGlyphs" stroke="#141414" stroke-width="0.65">NH4</text>
<text x="1074.40" y="1114.90" font-size="17" textLength="66.80" lengthAdjust="spacingAndGlyphs" stroke="#141414" stroke-width="0.65">Glutamate</text>
<text x="1009.50" y="1140.00" font-size="17" textLength="70.80" lengthAdjust="spacingAndGlyphs" stroke="#141414" stroke-width="0.65">NAD + H2O</text>
<text x="998.80" y="1168.60" font-size="17" textLength="80.30" lengthAdjust="spacingAndGlyphs" stroke="#141414" stroke-width="0.65">NADH + NH4</text>
<text x="913.30" y="1169.40" font-size="17" textLength="45.00" lengthAdjust="spacingAndGlyphs" stroke="#141414" stroke-width="0.65">NADPH</text>
<text x="1075.60" y="1184.50" font-size="17" textLength="69.10" lengthAdjust="spacingAndGlyphs" stroke="#141414" stroke-width="0.65">Alpha-keto</text>
<text x="1075.60" y="1209.50" font-size="17" textLength="56.40" lengthAdjust="spacingAndGlyphs" stroke="#141414" stroke-width="0.65">glutarate</text>
<text x="913.30" y="1213.10" font-size="17" textLength="117.30" lengthAdjust="spacingAndGlyphs" stroke="#141414" stroke-width="0.65">Valine degradation</text>
<text x="1013.50" y="1268.00" font-size="17" textLength="58.90" lengthAdjust="spacingAndGlyphs" stroke="#141414" stroke-width="0.65">Isocitrate</text>
<text x="1090.30" y="1275.20" font-size="17" textLength="28.60" lengthAdjust="spacingAndGlyphs" stroke="#141414" stroke-width="0.65">NAD</text>
<text x="947.10" y="1276.80" font-size="17" textLength="39.80" lengthAdjust="spacingAndGlyphs" stroke="#141414" stroke-width="0.65">Oxalo-</text>
<text x="947.10" y="1301.80" font-size="17" textLength="46.50" lengthAdjust="spacingAndGlyphs" stroke="#141414" stroke-width="0.65">acetate</text>
<text x="897.40" y="1317.10" font-size="17" textLength="29.00" lengthAdjust="spacingAndGlyphs" stroke="#141414" stroke-width="0.65">NAD</text>
<text x="1093.40" y="1322.00" font-size="17" textLength="37.40" lengthAdjust="spacingAndGlyphs" stroke="#141414" stroke-width="0.65">NADH</text>
<text x="889.50" y="1352.30" font-size="17" textLength="37.70" lengthAdjust="spacingAndGlyphs" stroke="#141414" stroke-width="0.65">NADH</text>
<text x="943.10" y="1363.40" font-size="17" textLength="43.80" lengthAdjust="spacingAndGlyphs" stroke="#141414" stroke-width="0.65">Malate</text>
<text x="1032.60" y="1350.30" font-size="17" textLength="67.60" lengthAdjust="spacingAndGlyphs" stroke="#141414" stroke-width="0.65">Alpha-keto</text>
<text x="1032.60" y="1375.00" font-size="17" textLength="55.70" lengthAdjust="spacingAndGlyphs" stroke="#141414" stroke-width="0.65">glutarate</text>
<text x="1105.40" y="1405.90" font-size="17" textLength="36.60" lengthAdjust="spacingAndGlyphs" stroke="#141414" stroke-width="0.65">NADH</text>
<text x="841.70" y="1449.20" font-size="17" textLength="22.70" lengthAdjust="spacingAndGlyphs" stroke="#141414" stroke-width="0.65">ATP</text>
<text x="889.50" y="1433.00" font-size="17" textLength="25.80" lengthAdjust="spacingAndGlyphs" stroke="#141414" stroke-width="0.65">ADP</text>
<text x="1125.20" y="1454.80" font-size="17" textLength="27.90" lengthAdjust="spacingAndGlyphs" stroke="#141414" stroke-width="0.65">NAD</text>
<text x="1184.90" y="1469.60" font-size="17" textLength="27.40" lengthAdjust="spacingAndGlyphs" stroke="#141414" stroke-width="0.65">H2O</text>
<text x="1125.20" y="1541.90" font-size="17" textLength="24.70" lengthAdjust="spacingAndGlyphs" stroke="#141414" stroke-width="0.65">O2S</text>
<text x="1188.90" y="1541.10" font-size="17" textLength="35.70" lengthAdjust="spacingAndGlyphs" stroke="#141414" stroke-width="0.65">H2O2</text>
<text x="1121.30" y="1614.00" font-size="17" textLength="52.50" lengthAdjust="spacingAndGlyphs" stroke="#141414" stroke-width="0.65">Creatine</text>
<text x="888.30" y="1597.30" font-size="17" textLength="66.80" lengthAdjust="spacingAndGlyphs" stroke="#141414" stroke-width="0.65">Tetrahydro</text>
<text x="888.30" y="1622.00" font-size="17" textLength="59.60" lengthAdjust="spacingAndGlyphs" stroke="#141414" stroke-width="0.65">-folic acid</text>
<text x="855.70" y="1635.10" font-size="17" textLength="23.00" lengthAdjust="spacingAndGlyphs" stroke="#141414" stroke-width="0.65">ATP</text>
<text x="857.70" y="1667.70" font-size="17" textLength="25.80" lengthAdjust="spacingAndGlyphs" stroke="#141414" stroke-width="0.65">ADP</text>
<text x="884.30" y="1684.40" font-size="17" textLength="58.80" lengthAdjust="spacingAndGlyphs" stroke="#141414" stroke-width="0.65">Methenyl</text>
<text x="884.30" y="1709.40" font-size="17" textLength="76.70" lengthAdjust="spacingAndGlyphs" stroke="#141414" stroke-width="0.65">&amp;methylene</text>
<text x="884.30" y="1733.30" font-size="17" textLength="67.60" lengthAdjust="spacingAndGlyphs" stroke="#141414" stroke-width="0.65">derivatives</text>
<text x="997.60" y="1684.40" font-size="17" textLength="52.90" lengthAdjust="spacingAndGlyphs" stroke="#141414" stroke-width="0.65">Serine &amp;</text>
<text x="997.60" y="1709.40" font-size="17" textLength="43.00" lengthAdjust="spacingAndGlyphs" stroke="#141414" stroke-width="0.65">glycine</text>
<text x="997.60" y="1733.30" font-size="17" textLength="73.60" lengthAdjust="spacingAndGlyphs" stroke="#141414" stroke-width="0.65">metabolism</text>
<text x="1084.30" y="1643.00" font-size="17" textLength="23.90" lengthAdjust="spacingAndGlyphs" stroke="#141414" stroke-width="0.65">ATP</text>
<text x="1086.30" y="1674.80" font-size="17" textLength="27.00" lengthAdjust="spacingAndGlyphs" stroke="#141414" stroke-width="0.65">ADP</text>
<text x="1113.30" y="1691.50" font-size="17" textLength="59.70" lengthAdjust="spacingAndGlyphs" stroke="#141414" stroke-width="0.65">Phospho-</text>
<text x="1113.30" y="1715.40" font-size="17" textLength="51.70" lengthAdjust="spacingAndGlyphs" stroke="#141414" stroke-width="0.65">creatine</text>
<text x="1149.10" y="1121.70" font-size="17" font-style="italic" textLength="70.40" lengthAdjust="spacingAndGlyphs" stroke="#141414" stroke-width="0.65">Amino acid</text>
<text x="1149.10" y="1146.70" font-size="17" font-style="italic" textLength="74.40" lengthAdjust="spacingAndGlyphs" stroke="#141414" stroke-width="0.65">metabolism</text>
<text x="1157.10" y="1291.10" font-size="17" font-style="italic" textLength="91.40" lengthAdjust="spacingAndGlyphs" stroke="#141414" stroke-width="0.65">Central carbon</text>
<text x="1157.10" y="1315.70" font-size="17" font-style="italic" textLength="74.30" lengthAdjust="spacingAndGlyphs" stroke="#141414" stroke-width="0.65">metabolism</text>
<text x="828.60" y="1545.10" font-size="17" font-style="italic" textLength="72.80" lengthAdjust="spacingAndGlyphs" stroke="#141414" stroke-width="0.65">One carbon</text>
<text x="828.60" y="1569.10" font-size="17" font-style="italic" textLength="74.00" lengthAdjust="spacingAndGlyphs" stroke="#141414" stroke-width="0.65">metabolism</text>
<text x="1043.30" y="1578.20" font-size="17" font-style="italic" textLength="43.80" lengthAdjust="spacingAndGlyphs" stroke="#141414" stroke-width="0.65">Energy</text>
<text x="1043.30" y="1602.10" font-size="17" font-style="italic" textLength="74.00" lengthAdjust="spacingAndGlyphs" stroke="#141414" stroke-width="0.65">metabolism</text>
<text x="869.60" y="1056.50" font-size="18.5" font-weight="bold" textLength="101.40" lengthAdjust="spacingAndGlyphs">Mitochondrial</text>
<text x="869.60" y="1084.20" font-size="18.5" font-weight="bold" textLength="100.60" lengthAdjust="spacingAndGlyphs">metabolism in</text>
<text x="901.40" y="1110.70" font-size="18.5" font-weight="bold" textLength="37.00" lengthAdjust="spacingAndGlyphs">brain</text>
<text x="990.00" y="1330.50" font-size="29" font-style="italic" textLength="34.70" lengthAdjust="spacingAndGlyphs" stroke="#141414" stroke-width="0.65">TCA</text>
<text x="835.00" y="1415.30" font-size="28" font-style="italic" textLength="35.80" lengthAdjust="spacingAndGlyphs" stroke="#141414" stroke-width="0.65">ETC</text>
<text x="913.30" y="1449.50" font-size="17" textLength="9.50" lengthAdjust="spacingAndGlyphs">H</text>
<text x="923.10" y="1443.50" font-size="11" textLength="5.50" lengthAdjust="spacingAndGlyphs">+</text>
<text x="938.40" y="1533.20" font-size="17" textLength="9.50" lengthAdjust="spacingAndGlyphs">H</text>
<text x="948.20" y="1527.20" font-size="11" textLength="5.50" lengthAdjust="spacingAndGlyphs">+</text>
<text x="987.70" y="1533.20" font-size="17" textLength="9.50" lengthAdjust="spacingAndGlyphs">H</text>
<text x="997.50" y="1527.20" font-size="11" textLength="5.50" lengthAdjust="spacingAndGlyphs">+</text>
<text x="1076.30" y="1529.20" font-size="17" textLength="9.50" lengthAdjust="spacingAndGlyphs">H</text>
<text x="1086.10" y="1523.20" font-size="11" textLength="5.50" lengthAdjust="spacingAndGlyphs">+</text>
<text x="955.90" y="1439.00" font-size="17" textLength="7.50" lengthAdjust="spacingAndGlyphs">e</text>
<text x="963.70" y="1431.00" font-size="11" textLength="3.50" lengthAdjust="spacingAndGlyphs">-</text>
<text x="1019.90" y="1433.00" font-size="17" textLength="7.50" lengthAdjust="spacingAndGlyphs">e</text>
<text x="1027.70" y="1425.00" font-size="11" textLength="3.50" lengthAdjust="spacingAndGlyphs">-</text>
<text x="1019.50" y="1528.00" font-size="17" textLength="7.50" lengthAdjust="spacingAndGlyphs">e</text>
<text x="1027.30" y="1520.00" font-size="11" textLength="3.50" lengthAdjust="spacingAndGlyphs">-</text>
<defs><marker id="ahS" viewBox="0 0 10 10" refX="1" refY="5" markerWidth="6" markerHeight="6" markerUnits="userSpaceOnUse" orient="auto"><path d="M10,1 L0,5 L10,9 z" fill="#141414"/></marker></defs>
<path d="M419.80,1053.40 L419.80,1079.42" fill="none" stroke="#141414" stroke-width="2.3"/>
<path d="M419.80,1085.20 L416.20,1078.40 L423.40,1078.40 z" fill="#141414"/>
<path d="M419.80,1117.60 L419.80,1142.92" fill="none" stroke="#141414" stroke-width="2.3"/>
<path d="M419.80,1148.70 L416.20,1141.90 L423.40,1141.90 z" fill="#141414"/>
<path d="M420.50,1183.40 L420.50,1208.82" fill="none" stroke="#141414" stroke-width="2.3"/>
<path d="M420.50,1214.60 L416.90,1207.80 L424.10,1207.80 z" fill="#141414"/>
<path d="M445.40,1216.00 L445.40,1190.78" fill="none" stroke="#141414" stroke-width="2.3"/>
<path d="M445.40,1185.00 L449.00,1191.80 L441.80,1191.80 z" fill="#141414"/>
<path d="M420.50,1259.60 L420.50,1285.02" fill="none" stroke="#141414" stroke-width="2.3"/>
<path d="M420.50,1290.80 L416.90,1284.00 L424.10,1284.00 z" fill="#141414"/>
<path d="M386.36,1295.10 L394.14,1303.80" fill="none" stroke="#141414" stroke-width="2.4"/>
<path d="M398.00,1308.10 L390.78,1305.44 L396.14,1300.63 z" fill="#141414"/>
<path d="M382.50,1290.80 L384.36,1298.27 L389.72,1293.46 z" fill="#141414"/>
<path d="M579.1,1133.1 V1143.8" stroke="#141414" stroke-width="2.4"/>
<path d="M579.10,1148.90 L579.10,1157.80" fill="none" stroke="#141414" stroke-width="2.4"/>
<path d="M579.10,1164.60 L575.85,1156.60 L582.35,1156.60 z" fill="#141414"/>
<path d="M581.50,1197.70 L581.50,1223.92" fill="none" stroke="#141414" stroke-width="2.3"/>
<path d="M581.50,1229.70 L577.90,1222.90 L585.10,1222.90 z" fill="#141414"/>
<path d="M611.60,1242.90 L629.88,1242.90" fill="none" stroke="#141414" stroke-width="3.2"/>
<path d="M636.00,1242.90 L628.80,1247.00 L628.80,1238.80 z" fill="#141414"/>
<path d="M604.50,1258.60 L619.56,1276.52" fill="none" stroke="#141414" stroke-width="3"/>
<path d="M623.50,1281.20 L615.73,1278.33 L622.01,1273.05 z" fill="#141414"/>
<path d="M562.6,1267.3 V1277.4" stroke="#141414" stroke-width="2.4"/>
<path d="M562.60,1281.50 L562.60,1293.50" fill="none" stroke="#141414" stroke-width="2.4"/>
<path d="M562.60,1300.30 L559.35,1292.30 L565.85,1292.30 z" fill="#141414"/>
<path d="M585.90,1268.80 L585.90,1294.52" fill="none" stroke="#141414" stroke-width="2.3"/>
<path d="M585.90,1300.30 L582.30,1293.50 L589.50,1293.50 z" fill="#141414"/>
<path d="M420.50,1354.60 L420.50,1380.02" fill="none" stroke="#141414" stroke-width="2.3"/>
<path d="M420.50,1385.80 L416.90,1379.00 L424.10,1379.00 z" fill="#141414"/>
<path d="M420.50,1436.00 L420.50,1461.42" fill="none" stroke="#141414" stroke-width="2.3"/>
<path d="M420.50,1467.20 L416.90,1460.40 L424.10,1460.40 z" fill="#141414"/>
<path d="M420.50,1505.30 L420.50,1530.72" fill="none" stroke="#141414" stroke-width="2.3"/>
<path d="M420.50,1536.50 L416.90,1529.70 L424.10,1529.70 z" fill="#141414"/>
<path d="M420.50,1582.50 L420.50,1607.92" fill="none" stroke="#141414" stroke-width="2.3"/>
<path d="M420.50,1613.70 L416.90,1606.90 L424.10,1606.90 z" fill="#141414"/>
<path d="M422.20,1674.30 L422.20,1699.72" fill="none" stroke="#141414" stroke-width="2.3"/>
<path d="M422.20,1705.50 L418.60,1698.70 L425.80,1698.70 z" fill="#141414"/>
<path d="M491.50,1458.50 L516.78,1417.70" fill="none" stroke="#141414" stroke-width="3"/>
<path d="M520.00,1412.50 L519.69,1420.78 L512.72,1416.46 z" fill="#141414"/>
<path d="M496.70,1477.60 L513.88,1477.60" fill="none" stroke="#141414" stroke-width="3.4"/>
<path d="M520.00,1477.60 L512.80,1481.70 L512.80,1473.50 z" fill="#141414"/>
<path d="M490.40,1503.60 L514.12,1539.40" fill="none" stroke="#141414" stroke-width="3"/>
<path d="M517.50,1544.50 L510.11,1540.76 L516.94,1536.23 z" fill="#141414"/>
<path d="M628.30,1395.50 L644.24,1363.96" fill="none" stroke="#141414" stroke-width="3"/>
<path d="M647.00,1358.50 L647.41,1366.78 L640.09,1363.08 z" fill="#141414"/>
<path d="M687.20,1375.40 L687.20,1400.82" fill="none" stroke="#141414" stroke-width="2.3"/>
<path d="M687.20,1406.60 L683.60,1399.80 L690.80,1399.80 z" fill="#141414"/>
<path d="M631.70,1436.00 L651.64,1466.38" fill="none" stroke="#141414" stroke-width="3"/>
<path d="M655.00,1471.50 L647.62,1467.73 L654.48,1463.23 z" fill="#141414"/>
<path d="M458.6,1039.6 C505,1038 537,1052 546.5,1074" fill="none" stroke="#86a07f" stroke-width="1.8" marker-end="url(#ahT)"/>
<path d="M394,1051 C408,1054 416,1062 417,1070 C418,1078 410,1083 398,1083.4" fill="none" stroke="#86a07f" stroke-width="1.8" marker-end="url(#ahT)"/>
<path d="M397.2,1178.9 C410,1182 418,1190 418.5,1197 C419,1205 410,1210 399,1210.3" fill="none" stroke="#86a07f" stroke-width="1.8" marker-end="url(#ahT)"/>
<path d="M469.5,1215.6 C458,1215 449,1211 448.5,1204 C448,1195 456,1187 467,1185" fill="none" stroke="#86a07f" stroke-width="1.8" marker-end="url(#ahT)"/>
<path d="M418.3,1277.7 C414,1281 408,1282 401,1282" fill="none" stroke="#86a07f" stroke-width="1.8" marker-end="url(#ahT)"/>
<path d="M553,1192 C568,1194 577,1202 576,1211 C575,1219 566,1224 557,1224.5" fill="none" stroke="#86a07f" stroke-width="1.8" marker-end="url(#ahT)"/>
<path d="M394.5,1353.5 C410,1356 418,1363 418,1370 C418,1378 410,1384 399.5,1384.5" fill="none" stroke="#86a07f" stroke-width="1.8" marker-end="url(#ahT)"/>
<path d="M444.7,1432 C430,1434 423,1442 424,1450 C425,1458 432,1463 443,1464.5" fill="none" stroke="#86a07f" stroke-width="1.8" marker-end="url(#ahT)"/>
<path d="M417,1608 C413,1612 407,1613.5 400.5,1613" fill="none" stroke="#86a07f" stroke-width="1.8" marker-end="url(#ahT)"/>
<path d="M446.4,1670 C432,1672 424,1680 425,1688 C426,1696 433,1701 444,1702" fill="none" stroke="#86a07f" stroke-width="1.8" marker-end="url(#ahT)"/>
<path d="M1106.20,1062.70 L1106.20,1088.72" fill="none" stroke="#141414" stroke-width="2.3"/>
<path d="M1106.20,1094.50 L1102.60,1087.70 L1109.80,1087.70 z" fill="#141414"/>
<path d="M1107.00,1131.40 L1107.00,1158.32" fill="none" stroke="#141414" stroke-width="2.3"/>
<path d="M1107.00,1164.10 L1103.40,1157.30 L1110.60,1157.30 z" fill="#141414"/>
<path d="M989.70,1164.40 L972.12,1164.40" fill="none" stroke="#141414" stroke-width="3.2"/>
<path d="M966.00,1164.40 L973.20,1160.30 L973.20,1168.50 z" fill="#141414"/>
<path d="M1064.00,1209.50 L1046.42,1209.50" fill="none" stroke="#141414" stroke-width="3.2"/>
<path d="M1040.30,1209.50 L1047.50,1205.40 L1047.50,1213.60 z" fill="#141414"/>
<path d="M1098.50,1219.10 L1092.46,1239.26" fill="none" stroke="#141414" stroke-width="2.6"/>
<path d="M1090.80,1244.80 L1089.30,1237.25 L1096.20,1239.32 z" fill="#141414"/>
<path d="M957.00,1339.00 L957.00,1312.98" fill="none" stroke="#141414" stroke-width="2.3"/>
<path d="M957.00,1307.20 L960.60,1314.00 L953.40,1314.00 z" fill="#141414"/>
<path d="M1058.40,1283.30 L1064.70,1323.39" fill="none" stroke="#141414" stroke-width="2.4"/>
<path d="M1065.60,1329.10 L1060.99,1322.94 L1068.10,1321.82 z" fill="#141414"/>
<path d="M1116.10,1339.80 L1116.10,1365.82" fill="none" stroke="#141414" stroke-width="2.3"/>
<path d="M1116.10,1371.60 L1112.50,1364.80 L1119.70,1364.80 z" fill="#141414"/>
<path d="M915.30,1365.60 L927.36,1379.18" fill="none" stroke="#141414" stroke-width="2.3"/>
<path d="M931.20,1383.50 L923.99,1380.81 L929.38,1376.03 z" fill="#141414"/>
<path d="M1201.60,1514.70 L1201.60,1488.68" fill="none" stroke="#141414" stroke-width="2.3"/>
<path d="M1201.60,1482.90 L1205.20,1489.70 L1198.00,1489.70 z" fill="#141414"/>
<path d="M1157.90,1537.40 L1175.88,1537.40" fill="none" stroke="#141414" stroke-width="3.2"/>
<path d="M1182.00,1537.40 L1174.80,1541.50 L1174.80,1533.30 z" fill="#141414"/>
<path d="M963.80,1703.70 L982.88,1703.70" fill="none" stroke="#141414" stroke-width="3.2"/>
<path d="M989.00,1703.70 L981.80,1707.80 L981.80,1699.60 z" fill="#141414"/>
<path d="M915.80,1635.95 L915.80,1657.95" fill="none" stroke="#141414" stroke-width="2.2"/>
<path d="M915.80,1662.20 L912.80,1657.20 L918.80,1657.20 z" fill="#141414"/>
<path d="M915.80,1631.70 L912.80,1636.70 L918.80,1636.70 z" fill="#141414"/>
<path d="M1144.50,1643.55 L1144.50,1665.85" fill="none" stroke="#141414" stroke-width="2.2"/>
<path d="M1144.50,1670.10 L1141.50,1665.10 L1147.50,1665.10 z" fill="#141414"/>
<path d="M1144.50,1639.30 L1141.50,1644.30 L1147.50,1644.30 z" fill="#141414"/>
<path d="M981.6,1260.3 C990,1252 1002,1248 1015,1248.5" fill="none" stroke="#141414" stroke-width="3" stroke-dasharray="6.5,4.5"/>
<path d="M1021.8,1249 L1014.3,1244.9 L1014.3,1253.1 z" fill="#141414"/>
<path d="M1032.4,1389.4 C1018,1397 1000,1399 988,1392 C981,1388 977,1382 975.5,1377" fill="none" stroke="#141414" stroke-width="3" stroke-dasharray="6.5,4.5"/>
<path d="M971.3,1370.8 L978.8,1375.2 L971.8,1379.6 z" fill="#141414"/>
<path d="M1080.3,1060.5 C1094,1063 1103,1069 1103,1077 C1103,1085 1094,1090 1083.5,1090.5" fill="none" stroke="#6f7c92" stroke-width="1.8" marker-end="url(#ahT)"/>
<path d="M1081,1131.5 C1095,1134 1104,1140 1104,1148 C1104,1156 1096,1162 1085.5,1163" fill="none" stroke="#6f7c92" stroke-width="1.8" marker-end="url(#ahT)"/>
<path d="M933,1315 C946,1318 954,1324 954,1331 C954,1338 946,1344 936.5,1345" fill="none" stroke="#6f7c92" stroke-width="1.8" marker-end="url(#ahT)"/>
<path d="M1087,1275 C1072,1279 1063,1288 1063,1298 C1063,1308 1072,1315 1087,1316" fill="none" stroke="#6f7c92" stroke-width="1.8" marker-end="url(#ahT)"/>
<path d="M896,1632.6 C907,1637 912,1643 912,1648 C912,1655 906,1660 897,1660.3" fill="none" stroke="#7a8598" stroke-width="1.5"/>
<path d="M890.5,1629.3 L897.5,1630.0 L894.5,1635.1 z M890.5,1660.8 L897.3,1663.4 L896.7,1657.0 z" fill="#141414"/>
<path d="M1125,1640.7 C1136,1645 1141,1650 1141,1655 C1141,1662 1135,1667.5 1126,1667.9" fill="none" stroke="#7a8598" stroke-width="1.5"/>
<path d="M1119.5,1637.4 L1126.5,1638.1 L1123.5,1643.3 z M1119.5,1668.4 L1126.3,1671.0 L1125.7,1664.6 z" fill="#141414"/>
<defs><marker id="ahC" viewBox="0 0 10 10" refX="6" refY="5" markerWidth="7.5" markerHeight="7.5" markerUnits="userSpaceOnUse" orient="auto-start-reverse"><path d="M0,0.5 L10,5 L0,9.5 z" fill="#141414"/></marker></defs>
<g fill="none" stroke="#36425c" stroke-width="1.7">
 <!-- V cylinder -->
 <path d="M880.8,1464.4 A16.5,3.4 0 0 1 913.8,1464.4 A16.5,3.4 0 0 1 880.8,1464.4 Z"/>
 <path d="M880.8,1464.4 V1488 A16.5,3.4 0 0 0 913.8,1488 V1464.4"/>
 <!-- IV rounded rect -->
 <rect x="932" y="1461.4" width="33.6" height="29.8" rx="3" ry="3"/>
 <!-- III flag -->
 <path d="M976.6,1458.8 H1010 V1487.6 C1003,1488.5 996,1485 988,1483.5 C983,1482.6 979,1483 976.6,1483.3 Z"/>
 <!-- II trapezoid -->
 <path d="M1021,1458 H1055 L1048.6,1488.3 H1027.8 Z"/>
 <!-- I flag -->
 <path d="M1068.2,1458 H1102.3 V1483.5 C1096,1483 1090,1484.5 1084,1486.5 C1078,1488 1072,1487.8 1068.2,1487.3 Z"/>
</g>
<g font-size="13.5" fill="#1f2840" stroke="#1f2840" stroke-width="0.6" font-family="Liberation Sans, sans-serif">
 <text x="892.7" y="1484.2" textLength="9" lengthAdjust="spacingAndGlyphs">V</text>
 <text x="942.6" y="1483" textLength="12.2" lengthAdjust="spacingAndGlyphs">IV</text>
 <text x="988.6" y="1476.8" textLength="10" lengthAdjust="spacingAndGlyphs">III</text>
 <text x="1035.1" y="1478.7" textLength="5.7" lengthAdjust="spacingAndGlyphs">II</text>
 <text x="1083.7" y="1476.8" textLength="3" lengthAdjust="spacingAndGlyphs">I</text>
</g>
<!-- vertical H+ arrows -->
<g stroke="#111" stroke-width="2.3" fill="none">
 <path d="M909.6,1509.2 V1456"/>
 <path d="M939.8,1448.4 V1501"/>
 <path d="M987.2,1448.6 V1501"/>
 <path d="M1077.6,1444.3 V1496"/>
</g>
<g fill="#111">
 <path d="M906.4,1457 L912.8,1457 L909.6,1448.4 Z"/>
 <path d="M936.4,1499.5 L943.2,1499.5 L939.8,1508.8 Z"/>
 <path d="M983.8,1499.5 L990.6,1499.5 L987.2,1508.8 Z"/>
 <path d="M1074.2,1494.5 L1081,1494.5 L1077.6,1503.8 Z"/>
</g>
<!-- thick electron arcs -->
<g stroke="#0d0d0d" stroke-width="3.2" fill="none">
 <path d="M986.8,1457 C982,1446 973,1441 963,1441.5 C955,1442 949,1446 946,1450.5"/>
 <path d="M1065.6,1459.4 C1058,1446 1047,1438.5 1034,1438.5 C1022,1438.5 1013,1443 1007,1448.5"/>
 <path d="M1043,1498.5 C1037,1506 1030,1509 1022,1508.8 C1014,1508.6 1008,1505 1004,1500.5"/>
</g>
<g fill="#0d0d0d">
 <path d="M941.2,1455.5 L943.5,1445.2 L951,1451.5 Z"/>
 <path d="M1002.5,1453.2 L1003.6,1444.3 L1011.5,1450.2 Z"/>
 <path d="M1000.5,1496 L1001,1505.8 L1008.5,1499.6 Z"/>
 <path d="M865.6,1438.6 L862.2,1448.3 L872.8,1446.5 Z"/>
</g>
<path d="M899.8,1439.4 C899,1452 893,1461 885,1461.2 C877,1461.4 871,1455 868.5,1446" fill="none" stroke="#0d0d0d" stroke-width="4.2"/>
<!-- thin curves -->
<g stroke="#66758c" stroke-width="1.2" fill="none">
 <path d="M1104.5,1420 C1096,1430 1093,1441 1095,1452 C1098,1458 1108,1457 1116.5,1453.8"/>
 <path d="M1048,1534.5 C1058,1544 1072,1548 1086,1547.6 C1098,1547.2 1108,1545 1116.5,1543.3"/>
</g>
<g fill="#141414">
 <path d="M1115.5,1450.6 L1121.5,1452.6 L1117.2,1457 Z"/>
 <path d="M1115.6,1540 L1121.2,1542.4 L1116.2,1546.5 Z"/>
</g>

</svg>
</body></html>
